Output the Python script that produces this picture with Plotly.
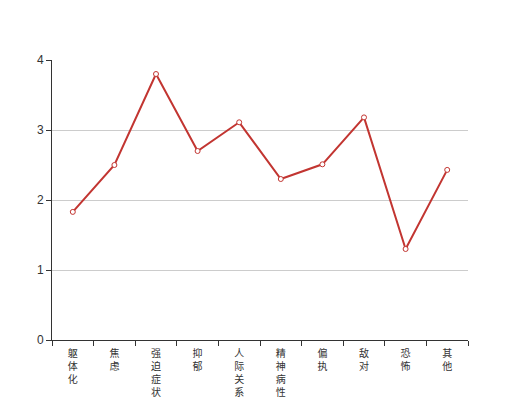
import plotly.graph_objects as go

categories = ["躯体化", "焦虑", "强迫症状", "抑郁", "人际关系敏感", "精神病性", "偏执", "敌对", "恐怖", "其他"]
values = [1.83, 2.50, 3.80, 2.70, 3.11, 2.30, 2.51, 3.18, 1.30, 2.43]
y_ticks = [0, 1, 2, 3, 4]

tick_text = ["<br>".join(list(c)) for c in categories]

fig = go.Figure()
fig.add_trace(go.Scatter(
    x=categories, y=values, mode="lines+markers",
    line=dict(color="#c23531", width=2),
    marker=dict(symbol="circle", size=5, color="white",
                line=dict(color="#c23531", width=1)),
    showlegend=False,
))

fig.update_layout(
    width=520, height=400,
    margin=dict(l=44, r=60, t=52, b=68),
    paper_bgcolor="white", plot_bgcolor="white",
    font=dict(family="Noto Sans CJK SC, sans-serif", color="#333", size=12),
)
fig.update_xaxes(
    type="category", range=[-0.5, 9.5], automargin=False,
    tickmode="array", tickvals=categories, ticktext=tick_text,
    tickson="boundaries", ticks="outside", ticklen=5, tickcolor="#333",
    showline=True, linecolor="#333", linewidth=1,
    showgrid=False, tickfont=dict(size=10, color="#333"),
    tickangle=0, ticklabelstandoff=4,
)
fig.update_yaxes(
    range=[0, 4], tickvals=y_ticks, automargin=False,
    ticks="outside", ticklen=5, tickcolor="#333",
    showline=True, linecolor="#333", linewidth=1,
    showgrid=True, gridcolor="#ccc", gridwidth=1,
    zeroline=False, tickfont=dict(family="Liberation Sans, Arial, sans-serif", size=12, color="#333"),
)

fig.write_html("out.html")
